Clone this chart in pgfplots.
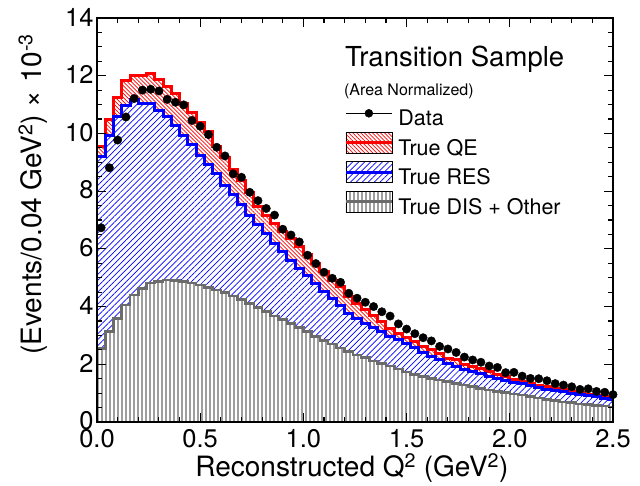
\documentclass[border=0pt]{standalone}
\usepackage{fontspec}
\setmainfont{TeX Gyre Heros}
\usepackage{pgfplots}
\pgfplotsset{compat=1.18}
\usepackage{pgfplotstable}
\usetikzlibrary{patterns,patterns.meta,calc}

% vertical stripes for DIS + Other (tall overlapping tile, no seams)
\pgfdeclarepatternformonly{vstripes}{\pgfqpoint{0pt}{-1pt}}{\pgfqpoint{4pt}{201pt}}{\pgfqpoint{4pt}{200pt}}{%
  \pgfpathrectangle{\pgfqpoint{0.9pt}{-1pt}}{\pgfqpoint{2.2pt}{202pt}}\pgfusepath{fill}}

% stacked MC: qe = QE+RES+DIS (total), res = RES+DIS, dis = DIS+Other
\pgfplotstableread{
x    qe    res   dis
0.00 9.54  9.19  2.55
0.04 10.49 9.94  3.13
0.08 11.26 10.58 3.59
0.12 11.83 10.98 4.05
0.16 12.02 11.16 4.40
0.20 12.00 11.04 4.63
0.24 12.06 11.02 4.81
0.28 11.88 10.81 4.86
0.32 11.63 10.58 4.92
0.36 11.38 10.29 4.90
0.40 11.05 9.94  4.86
0.44 10.72 9.60  4.81
0.48 10.38 9.25  4.75
0.52 10.05 8.91  4.67
0.56 9.55  8.62  4.57
0.60 9.15  8.21  4.48
0.64 8.75  7.87  4.37
0.68 8.38  7.52  4.25
0.72 7.95  7.17  4.11
0.76 7.48  6.83  3.96
0.80 7.17  6.54  3.82
0.84 6.88  6.19  3.67
0.88 6.59  5.90  3.56
0.92 6.36  5.61  3.42
0.96 6.07  5.33  3.28
1.00 5.79  5.09  3.13
1.04 5.50  4.81  2.96
1.08 5.21  4.52  2.82
1.12 4.92  4.29  2.70
1.16 4.69  4.05  2.57
1.20 4.34  3.77  2.44
1.24 4.11  3.59  2.32
1.28 3.90  3.42  2.24
1.32 3.68  3.27  2.12
1.36 3.48  3.13  2.03
1.40 3.25  2.98  1.94
1.44 3.07  2.87  1.83
1.48 2.93  2.72  1.73
1.52 2.80  2.58  1.65
1.56 2.63  2.40  1.58
1.60 2.52  2.26  1.51
1.64 2.38  2.15  1.46
1.68 2.21  2.04  1.40
1.72 2.15  1.94  1.34
1.76 1.98  1.82  1.28
1.80 1.92  1.74  1.22
1.84 1.84  1.68  1.17
1.88 1.74  1.59  1.11
1.92 1.63  1.51  1.05
1.96 1.57  1.45  1.02
2.00 1.46  1.38  0.97
2.04 1.40  1.32  0.93
2.08 1.34  1.25  0.88
2.12 1.28  1.20  0.83
2.16 1.22  1.13  0.79
2.20 1.15  1.08  0.74
2.24 1.11  1.04  0.70
2.28 1.05  0.99  0.67
2.32 1.02  0.96  0.63
2.36 0.97  0.91  0.60
2.40 0.91  0.88  0.57
2.44 0.87  0.83  0.55
2.48 0.83  0.79  0.52
2.52 0.83  0.79  0.52
}\mc

\pgfplotstableread{
x    y
0.02 6.73
0.06 8.81
0.10 9.77
0.14 10.57
0.18 11.21
0.22 11.50
0.26 11.53
0.30 11.47
0.34 11.18
0.38 11.08
0.42 10.99
0.46 10.45
0.50 10.25
0.54 9.96
0.58 9.52
0.62 9.22
0.66 8.60
0.70 8.48
0.74 7.96
0.78 7.67
0.82 7.40
0.86 7.17
0.90 6.68
0.94 6.48
0.98 6.24
1.02 5.78
1.06 5.49
1.10 5.19
1.14 4.98
1.18 4.84
1.22 4.46
1.26 4.29
1.30 4.15
1.34 4.00
1.38 3.82
1.42 3.67
1.46 3.40
1.50 3.22
1.54 3.06
1.58 2.92
1.62 2.81
1.66 2.62
1.70 2.53
1.74 2.41
1.78 2.25
1.82 2.15
1.86 2.07
1.90 1.94
1.94 1.89
1.98 1.71
2.02 1.72
2.06 1.59
2.10 1.51
2.14 1.50
2.18 1.43
2.22 1.33
2.26 1.28
2.30 1.22
2.34 1.13
2.38 1.15
2.42 1.06
2.46 1.03
2.50 0.95
}\data

\definecolor{disline}{gray}{0.42}
\definecolor{disfill}{gray}{0.62}

\begin{document}
\begin{tikzpicture}
\begin{axis}[
    scale only axis,
    width=516pt, height=404pt,
    xmin=0, xmax=2.5, ymin=0, ymax=14,
    xtick={0,0.5,1,1.5,2,2.5}, minor x tick num=4,
    ytick={0,2,4,6,8,10,12,14}, minor y tick num=3,
    tick align=inside, xtick pos=both, ytick pos=both,
    major tick length=9pt, minor tick length=5pt,
    axis line style={line width=1.6pt},
    tick style={black, line width=1.1pt},
    axis on top,
    /pgf/number format/assume math mode=true,
    ticklabel style={font=\fontsize{25.5}{30}\selectfont},
    xticklabel style={yshift=-4pt, /pgf/number format/.cd, fixed, fixed zerofill, precision=1},
    yticklabel style={yshift=1pt, /pgf/number format/.cd, fixed, precision=0},
    xlabel={Reconstructed Q\textsuperscript{2} (GeV\textsuperscript{2})},
    ylabel={(Events/0.04 GeV\textsuperscript{2}) × 10\textsuperscript{-3}},
    xlabel style={at={(axis description cs:0.494,-0.136)}, anchor=base,
        font=\fontsize{28}{34}\selectfont},
    ylabel style={at={(axis description cs:-0.124,0.564)}, anchor=center,
        font=\fontsize{28}{34}\selectfont},
    legend style={at={(axis description cs:0.479,0.775)}, anchor=north west,
        draw=none, fill=none, inner sep=0pt, row sep=1.2pt,
        font=\fontsize{21.5}{25}\selectfont,
        nodes={inner sep=0pt, text height=16pt, text depth=5pt},
        /tikz/every odd column/.append style={column sep=5pt}},
    legend cell align=left,
]
\addplot[const plot, draw=red, line width=3pt, preaction={fill=white},
    pattern={Lines[angle=-45,distance=2.8pt,line width=0.7pt]}, pattern color=red,
    forget plot] table[x=x, y=qe] {\mc} \closedcycle;
\addplot[const plot, draw=blue, line width=3pt, preaction={fill=white},
    pattern={Lines[angle=45,distance=4.2pt,line width=0.7pt]}, pattern color=blue,
    forget plot] table[x=x, y=res] {\mc} \closedcycle;
\addplot[const plot, draw=disline, line width=2.6pt, preaction={fill=white},
    pattern=vstripes, pattern color=disfill,
    forget plot] table[x=x, y=dis] {\mc} \closedcycle;
\addplot[only marks, mark=*, mark size=4.2pt, black, forget plot] table[x=x, y=y] {\data};

\addlegendimage{legend image code/.code={
    \draw[black, line width=1.5pt] (0pt,7pt) -- (46pt,7pt);
    \fill[black] (23pt,7pt) circle (4pt);}}
\addlegendentry{Data}
\addlegendimage{legend image code/.code={
    \fill[white] (0pt,-3.5pt) rectangle (46pt,17.5pt);
    \fill[pattern={Lines[angle=-45,distance=2.8pt,line width=0.7pt]}, pattern color=red]
        (0pt,-3.5pt) rectangle (46pt,17.5pt);
    \draw[red, line width=3pt] (0pt,7pt) -- (46pt,7pt);}}
\addlegendentry{True QE}
\addlegendimage{legend image code/.code={
    \fill[white] (0pt,-3.5pt) rectangle (46pt,17.5pt);
    \fill[pattern={Lines[angle=45,distance=4.2pt,line width=0.7pt]}, pattern color=blue]
        (0pt,-3.5pt) rectangle (46pt,17.5pt);
    \draw[blue, line width=3pt] (0pt,7pt) -- (46pt,7pt);}}
\addlegendentry{True RES}
\addlegendimage{legend image code/.code={
    \fill[white] (0pt,-3.5pt) rectangle (46pt,17.5pt);
    \fill[pattern=vstripes, pattern color=disfill]
        (0pt,-3.5pt) rectangle (46pt,17.5pt);
    \draw[disline, line width=2.6pt] (0pt,7pt) -- (46pt,7pt);}}
\addlegendentry{True DIS + Other}

\node[anchor=base west, font=\fontsize{27.5}{33}\selectfont]
    at (rel axis cs:0.474,0.879) {Transition Sample};
\node[anchor=base west, font=\fontsize{16}{19}\selectfont]
    at (rel axis cs:0.472,0.807) {(Area Normalized)};
\end{axis}
\pgfresetboundingbox
\path ($(current axis.south west)+(-97pt,-63pt)$) rectangle ($(current axis.north east)+(27pt,18pt)$);
\end{tikzpicture}
\end{document}
